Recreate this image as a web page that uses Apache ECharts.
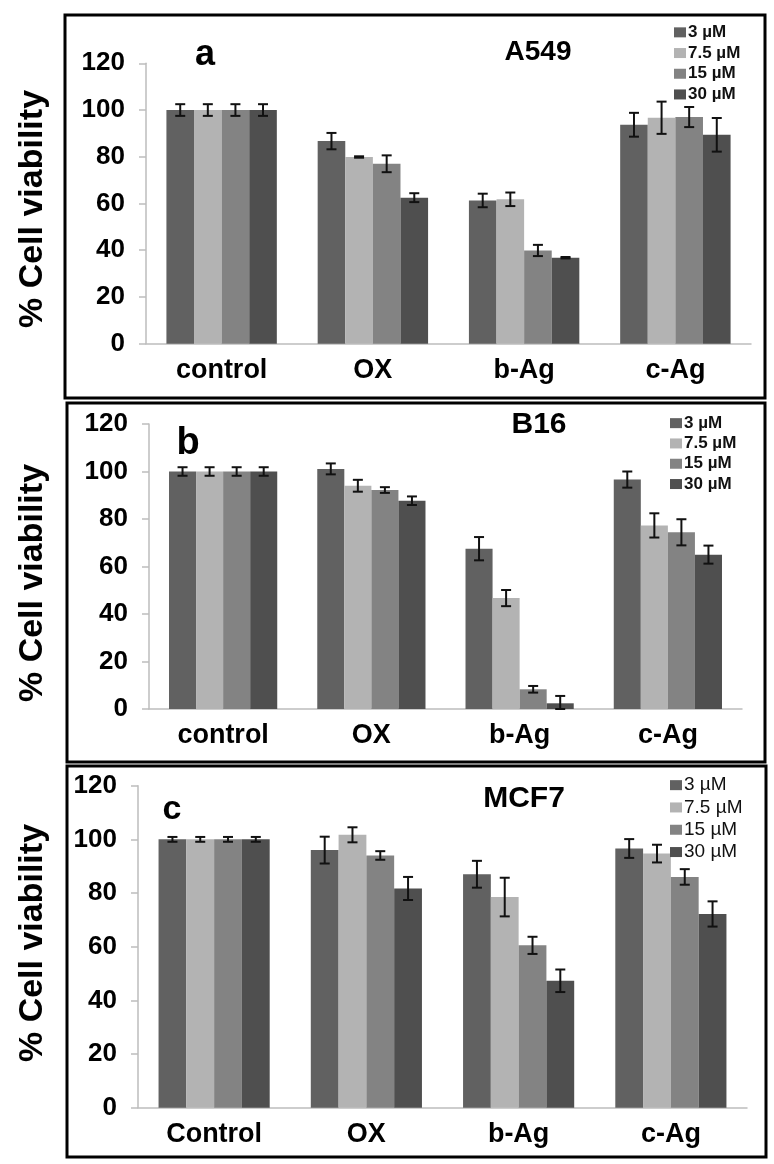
<!DOCTYPE html>
<html>
<head>
<meta charset="utf-8">
<title>Cell viability</title>
<style>
html, body { margin: 0; padding: 0; background: #fff; }
#main { width: 774px; height: 1164px; }
</style>
</head>
<body>
<div id="main"></div>
<script src="https://cdn.jsdelivr.net/npm/echarts@6/dist/echarts.min.js"></script>
<script>
// categories and doses
var catsLower = ['control', 'OX', 'b-Ag', 'c-Ag'];
var catsUpper = ['Control', 'OX', 'b-Ag', 'c-Ag'];
var doses = ['3 µM', '7.5 µM', '15 µM', '30 µM'];
var yTicks = [0, 20, 40, 60, 80, 100, 120];

// A549 (panel a), one row per dose
var a549 = [
	[100, 86.7, 61.3, 93.7],
	[100, 79.9, 61.8, 96.7],
	[100, 77.0, 39.9, 97.0],
	[100, 62.5, 36.8, 89.4]
];
var a549Err = [
	[2.5, 3.5, 2.9, 5.1],
	[2.5, 0.3, 2.9, 6.9],
	[2.5, 3.6, 2.4, 4.3],
	[2.5, 1.9, 0.3, 7.2]
];

// B16 (panel b)
var b16 = [
	[100, 101.1, 67.5, 96.6],
	[100, 94.0, 46.7, 77.3],
	[100, 92.2, 8.3, 74.4],
	[100, 87.7, 2.4, 65.0]
];
var b16Err = [
	[1.8, 2.3, 4.9, 3.4],
	[1.8, 2.5, 3.4, 5.1],
	[1.8, 1.2, 1.4, 5.5],
	[1.8, 1.8, 3.1, 3.8]
];

// MCF7 (panel c)
var mcf7 = [
	[100, 96.0, 87.0, 96.6],
	[100, 101.7, 78.5, 94.7],
	[100, 94.0, 60.5, 86.0],
	[100, 81.7, 47.3, 72.2]
];
var mcf7Err = [
	[0.9, 5.0, 5.0, 3.5],
	[0.9, 2.8, 7.2, 3.3],
	[0.9, 1.6, 3.2, 2.9],
	[0.9, 4.3, 4.2, 4.7]
];

var doseColors = ['#616161', '#b3b3b3', '#838383', '#4f4f4f'];
var FONT = 'Arial, "Liberation Sans", sans-serif';
var GAP = 0.27; // barCategoryGap

var panels = [
	{ grid: { left: 146, top: 63.3, width: 605, height: 280.4 }, cats: catsLower, vals: a549, errs: a549Err,
	  legend: { left: 674, top: 22, lh: 20.7, size: 17, weight: 'bold' } },
	{ grid: { left: 149, top: 424, width: 593, height: 285 }, cats: catsLower, vals: b16, errs: b16Err,
	  legend: { left: 670, top: 413, lh: 20.3, size: 17, weight: 'bold' } },
	{ grid: { left: 138, top: 785.7, width: 609, height: 322 }, cats: catsUpper, vals: mcf7, errs: mcf7Err,
	  legend: { left: 670, top: 774, lh: 22.3, size: 19, weight: 'normal' } }
];

var grids = [], xAxes = [], yAxes = [], legends = [], series = [];

panels.forEach(function (p, n) {
	grids.push(p.grid);
	xAxes.push({
		type: 'category', gridIndex: n, data: p.cats,
		axisLine: { lineStyle: { color: '#bdbdbd', width: 1.5 } },
		axisTick: { length: 7, lineStyle: { color: '#bdbdbd', width: 1.5 } },
		axisLabel: { color: '#000', fontFamily: FONT, fontWeight: 'bold', fontSize: 27, margin: 13 }
	});
	yAxes.push({
		type: 'value', gridIndex: n, min: yTicks[0], max: yTicks[yTicks.length - 1], interval: 20,
		axisLine: { show: true, lineStyle: { color: '#bdbdbd', width: 1.5 } },
		axisTick: { show: true, length: 7, lineStyle: { color: '#bdbdbd', width: 1.5 } },
		splitLine: { show: false },
		axisLabel: { color: '#000', fontFamily: FONT, fontWeight: 'bold', fontSize: 26, margin: 21 }
	});
	legends.push({
		data: doses, orient: 'vertical', left: p.legend.left, top: p.legend.top, padding: 0,
		icon: 'rect', itemWidth: 12, itemHeight: 10, itemGap: 0, selectedMode: false,
		textStyle: { color: '#111', fontFamily: FONT, fontWeight: p.legend.weight,
			fontSize: p.legend.size, lineHeight: p.legend.lh, padding: [0, 0, 0, -3] }
	});
	// bars
	doses.forEach(function (d, k) {
		series.push({
			name: d, type: 'bar', xAxisIndex: n, yAxisIndex: n,
			data: p.vals[k], barGap: '0%', barCategoryGap: (GAP * 100) + '%',
			itemStyle: { color: doseColors[k] }, emphasis: { disabled: true }
		});
	});
	// error bars
	var errData = [];
	doses.forEach(function (d, k) {
		p.cats.forEach(function (c, i) {
			errData.push([i, k, p.vals[k][i], p.errs[k][i]]);
		});
	});
	series.push({
		type: 'custom', xAxisIndex: n, yAxisIndex: n, z: 5, silent: true,
		encode: { x: 0, y: 2 },
		data: errData,
		renderItem: function (params, api) {
			var i = api.value(0), k = api.value(1), v = api.value(2), e = api.value(3);
			var band = api.size([1, 0])[0];
			var group = band * (1 - GAP);
			var bw = group / 4;
			var x = api.coord([i, 0])[0] - group / 2 + bw * (k + 0.5);
			var yTop = api.coord([i, v + e])[1];
			var yBot = api.coord([i, Math.max(0, v - e)])[1];
			var cap = 5;
			var st = { stroke: '#111', lineWidth: 2 };
			return {
				type: 'group',
				children: [
					{ type: 'line', shape: { x1: x, y1: yTop, x2: x, y2: yBot }, style: st },
					{ type: 'line', shape: { x1: x - cap, y1: yTop, x2: x + cap, y2: yTop }, style: st },
					{ type: 'line', shape: { x1: x - cap, y1: yBot, x2: x + cap, y2: yBot }, style: st }
				]
			};
		}
	});
});

function txt(s, x, y, size, rot) {
	return {
		type: 'text', x: x, y: y, rotation: rot || 0, z: 10,
		style: { text: s, font: 'bold ' + size + 'px ' + FONT, fill: '#000',
			textAlign: 'center', textVerticalAlign: 'middle', align: 'center', verticalAlign: 'middle' }
	};
}
function box(x, y, w, h) {
	return { type: 'rect', shape: { x: x, y: y, width: w, height: h }, z: 10,
		style: { fill: 'none', stroke: '#000', lineWidth: 3 } };
}

var graphics = [
	box(65, 15, 700, 383), box(67, 403, 698, 359), box(67, 766, 699, 391),
	txt('a', 205, 55, 36), txt('A549', 538, 52, 28),
	txt('b', 188, 444, 38), txt('B16', 539, 425, 30),
	txt('c', 172, 810, 34), txt('MCF7', 524, 799, 30),
	txt('% Cell viability', 33, 209, 34, Math.PI / 2),
	txt('% Cell viability', 33, 583, 34, Math.PI / 2),
	txt('% Cell viability', 33, 943, 34, Math.PI / 2)
];

var myChart = echarts.init(document.getElementById('main'));
myChart.setOption({
	animation: false,
	backgroundColor: '#fff',
	grid: grids,
	xAxis: xAxes,
	yAxis: yAxes,
	legend: legends,
	graphic: graphics,
	series: series
});
</script>
</body>
</html>
